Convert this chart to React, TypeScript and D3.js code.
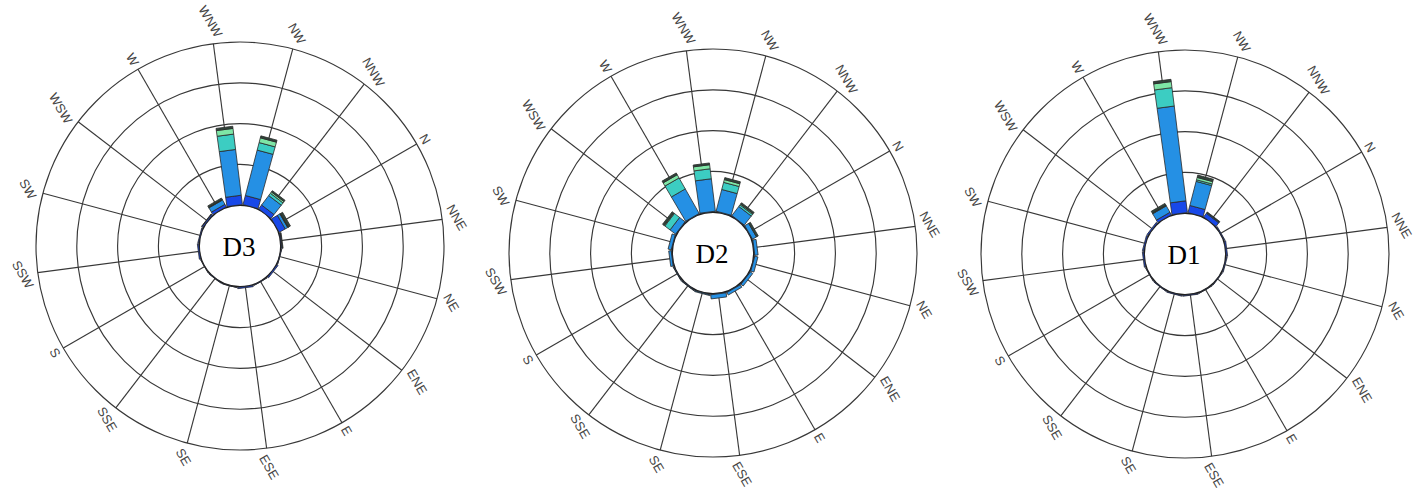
import React from "react";
import * as d3 from "d3";

// Compass sectors, clockwise from north
const directions = ["N", "NNE", "NE", "ENE", "E", "ESE", "SE", "SSE", "S", "SSW", "SW", "WSW", "W", "WNW", "NW", "NNW"];
// Frequency rings (%)
const freqTicks = [5, 10, 15, 20];
// Speed-class colours, calm to strong
const binColors = ["#1848e8", "#2590e4", "#3ccdc2", "#7ee6a6", "#30443a"];

// Site D3: frequency (%) per speed class and direction
const d3Class1 = [0.85, 0.1, 0.05, 0.15, 0.05, 0.15, 0.03, 0.03, 0.03, 0.15, 0.1, 0.15, 0.35, 1.15, 1.15, 0.6];
const d3Class2 = [0.35, 0, 0, 0, 0, 0, 0, 0, 0, 0, 0, 0, 0.6, 5.65, 5.75, 1.45];
const d3Class3 = [0.05, 0, 0, 0, 0, 0, 0, 0, 0, 0, 0, 0, 0.05, 1.9, 0.95, 0.35];
const d3Class4 = [0.03, 0, 0, 0, 0, 0, 0, 0, 0, 0, 0, 0, 0.03, 0.7, 0.6, 0.2];
const d3Class5 = [0.3, 0.1, 0, 0, 0, 0, 0, 0, 0, 0, 0, 0.05, 0.2, 0.27, 0.25, 0.2];

// Site D2
const d2Class1 = [0.05, 0.05, 0.05, 0.05, 0.05, 0.05, 0.05, 0.05, 0.05, 0.05, 0.05, 0.05, 0.05, 0.05, 0.05, 0.05];
const d2Class2 = [0.55, 0.4, 0.4, 0.35, 0.35, 0.5, 0.1, 0.05, 0.05, 0.3, 0.4, 0.85, 3.45, 4.0, 2.75, 1.4];
const d2Class3 = [0, 0, 0, 0, 0, 0, 0, 0, 0, 0, 0, 0.8, 1.55, 1.23, 0.9, 0.25];
const d2Class4 = [0, 0, 0, 0, 0, 0, 0, 0, 0, 0, 0, 0.1, 0.45, 0.5, 0.35, 0.12];
const d2Class5 = [0.25, 0, 0, 0, 0, 0, 0, 0, 0, 0, 0, 0.25, 0.25, 0.22, 0.25, 0.2];

// Site D1
const d1Class1 = [0.1, 0.15, 0.1, 0.05, 0.05, 0.1, 0.1, 0.05, 0.05, 0.15, 0.15, 0.15, 0.35, 1.45, 0.9, 0.55];
const d1Class2 = [0, 0, 0, 0, 0, 0, 0, 0, 0, 0, 0, 0, 0.9, 11.7, 3.05, 0.1];
const d1Class3 = [0, 0, 0, 0, 0, 0, 0, 0, 0, 0, 0, 0, 0.05, 2.27, 0.2, 0];
const d1Class4 = [0, 0, 0, 0, 0, 0, 0, 0, 0, 0, 0, 0, 0.05, 0.75, 0.3, 0];
const d1Class5 = [0, 0, 0, 0, 0, 0, 0, 0, 0, 0, 0, 0, 0.25, 0.28, 0.3, 0.1];

const sites = [
  { name: "D3", cx: 240, cy: 246, classes: [d3Class1, d3Class2, d3Class3, d3Class4, d3Class5] },
  { name: "D2", cx: 713, cy: 253, classes: [d2Class1, d2Class2, d2Class3, d2Class4, d2Class5] },
  { name: "D1", cx: 1185, cy: 254, classes: [d1Class1, d1Class2, d1Class3, d1Class4, d1Class5] },
];

const OUTER = 204;
const HOLE = OUTER / 5;
const ROTATION = 60; // whole rose turned clockwise, labels included
const LABEL_FONT = 13;

// Approximate Arial advance widths at 13px
const glyphW: Record<string, number> = { N: 9.39, E: 8.67, S: 8.67, W: 12.27 };

const rScale = d3.scaleLinear().domain([0, 20]).range([HOLE, OUTER]);

function bearing(i: number) {
  return i * 22.5 + ROTATION;
}

function unit(b: number) {
  const a = (b * Math.PI) / 180;
  return { ux: Math.sin(a), uy: -Math.cos(a), px: Math.cos(a), py: Math.sin(a) };
}

const halfWidth = (r: number) => 7.8 + 0.008 * (r - HOLE);

function segmentPath(b: number, r0: number, r1: number) {
  const { ux, uy, px, py } = unit(b);
  const h0 = halfWidth(r0);
  const h1 = halfWidth(r1);
  const pts: [number, number][] = [
    [ux * r0 - px * h0, uy * r0 - py * h0],
    [ux * r1 - px * h1, uy * r1 - py * h1],
    [ux * r1 + px * h1, uy * r1 + py * h1],
    [ux * r0 + px * h0, uy * r0 + py * h0],
  ];
  return d3.line()(pts) + "Z";
}

function labelPos(i: number, text: string) {
  const b = bearing(i);
  const { ux, uy } = unit(b);
  const rot = (ROTATION * Math.PI) / 180;
  const tx = Math.cos(rot), ty = Math.sin(rot);
  const upx = Math.sin(rot), upy = -Math.cos(rot);
  const w = text.split("").reduce((s, c) => s + (glyphW[c] || 8.5), 0);
  const capH = 9.3;
  const ext = (w / 2) * Math.abs(tx * ux + ty * uy) + (capH / 2) * Math.abs(upx * ux + upy * uy);
  const r = OUTER + 5 + ext;
  return { x: ux * r, y: uy * r };
}

function Rose({ site }: { site: (typeof sites)[number] }) {
  const stacks = directions.map((_, i) => {
    let acc = 0;
    return site.classes.map((cls, k) => {
      const v0 = acc;
      acc += cls[i];
      return { k, v0, v1: acc };
    });
  });

  return (
    <g transform={`translate(${site.cx},${site.cy})`}>
      {freqTicks.map((t) => (
        <circle key={t} r={rScale(t)} fill="none" stroke="#383838" strokeWidth={1.15} />
      ))}
      {directions.map((d, i) => {
        const { ux, uy } = unit(bearing(i));
        return (
          <line
            key={d}
            x1={ux * HOLE}
            y1={uy * HOLE}
            x2={ux * OUTER}
            y2={uy * OUTER}
            stroke="#383838"
            strokeWidth={1.15}
          />
        );
      })}
      <circle r={HOLE} fill="#fff" stroke="#1e1e1e" strokeWidth={1.5} />
      {stacks.map((segs, i) =>
        segs
          .filter((s) => s.v1 > s.v0)
          .map((s) => (
            <path
              key={`${i}-${s.k}`}
              d={segmentPath(bearing(i), rScale(s.v0), rScale(s.v1))}
              fill={binColors[s.k]}
              stroke="#2a2a2a"
              strokeWidth={0.8}
            />
          ))
      )}
      {directions.map((d, i) => {
        const p = labelPos(i, d);
        return (
          <text
            key={d}
            transform={`translate(${p.x},${p.y}) rotate(${ROTATION})`}
            textAnchor="middle"
            dominantBaseline="central"
            fontFamily="'Liberation Sans', Arial, sans-serif"
            fontSize={LABEL_FONT}
            fill="#444"
          >
            {d}
          </text>
        );
      })}
      <text
        x={-1}
        y={1}
        textAnchor="middle"
        dominantBaseline="central"
        fontFamily="'Liberation Serif', 'Times New Roman', serif"
        fontSize={27}
        fill="#000"
      >
        {site.name}
      </text>
    </g>
  );
}

export default function App() {
  return (
    <svg
      width={1426}
      height={493}
      style={{ position: "absolute", left: 0, top: 0, background: "#fff" }}
    >
      <rect width={1426} height={493} fill="#fff" />
      {sites.map((s) => (
        <Rose key={s.name} site={s} />
      ))}
    </svg>
  );
}
